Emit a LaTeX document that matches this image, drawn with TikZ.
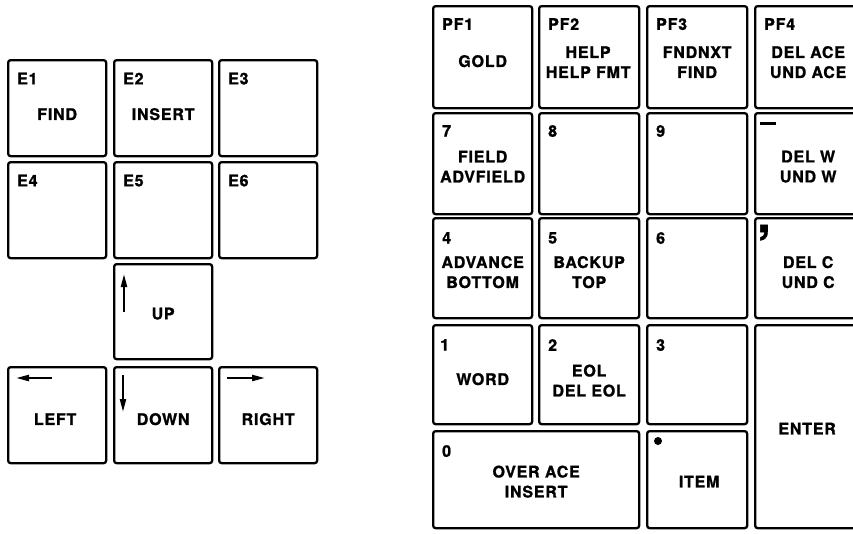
\documentclass[tikz,border=0pt]{standalone}
\usepackage{fontspec}
\setmainfont{TeX Gyre Heros}[LetterSpace=5, BoldFeatures={FakeBold=1.2}]
\usetikzlibrary{arrows.meta}
\begin{document}
\begin{tikzpicture}[x=1pt,y=-1pt,
  key/.style={draw, line width=2.3pt, rounded corners=2.5pt, anchor=north west, inner sep=0pt, minimum width=98pt, minimum height=96pt},
  lab/.style={anchor=north west, inner sep=0pt, font=\bfseries\fontsize{16}{20}\selectfont},
  txt/.style={inner sep=0pt, align=center, font=\bfseries\fontsize{16}{20}\selectfont},
  arr/.style={line width=2.2pt, -{Triangle[length=13pt,width=6pt]}},
]
\clip (0,0) rectangle (853,533);
% ---------- left group ----------
\node[key] (e1) at (7,59) {};
\node[key] (e2) at (113,59) {};
\node[key] (e3) at (218,59) {};
\node[key] (e4) at (7,161) {};
\node[key] (e5) at (113,161) {};
\node[key] (e6) at (218,161) {};
\node[key, minimum height=95pt] (up) at (113,263) {};
\node[key] (left) at (7,366) {};
\node[key] (down) at (113,366) {};
\node[key] (right) at (218,366) {};

\node[lab] (e1l) at ([shift={(10,13.5)}]e1.north west) {E1};
\node[lab] (e2l) at ([shift={(10,13.5)}]e2.north west) {E2};
\node[lab] (e3l) at ([shift={(10,13.5)}]e3.north west) {E3};
\node[lab] (e4l) at ([shift={(10,13.5)}]e4.north west) {E4};
\node[lab] (e5l) at ([shift={(10,13.5)}]e5.north west) {E5};
\node[lab] (e6l) at ([shift={(10,13.5)}]e6.north west) {E6};

\node[txt] (e1t) at ([shift={(0,6)}]e1.center) {FIND};
\node[txt] (e2t) at ([shift={(0,6)}]e2.center) {INSERT};
\node[txt] (upt) at ([shift={(0,2)}]up.center) {UP};
\node[txt] (leftt) at ([shift={(-2,4)}]left.center) {LEFT};
\node[txt] (downt) at ([shift={(0,4)}]down.center) {DOWN};
\node[txt] (rightt) at ([shift={(0,4)}]right.center) {RIGHT};

\coordinate (upa) at ([shift={(11,49)}]up.north west);
\coordinate (upb) at ([shift={(11,11)}]up.north west);
\draw[arr] (upa) -- (upb);
\coordinate (dna) at ([shift={(10,9)}]down.north west);
\coordinate (dnb) at ([shift={(10,46)}]down.north west);
\draw[arr] (dna) -- (dnb);
\coordinate (lfa) at ([shift={(45,12)}]left.north west);
\coordinate (lfb) at ([shift={(9,12)}]left.north west);
\draw[arr] (lfa) -- (lfb);
\coordinate (rta) at ([shift={(9,12)}]right.north west);
\coordinate (rtb) at ([shift={(47,12)}]right.north west);
\draw[arr] (rta) -- (rtb);

% ---------- right group ----------
\node[key, minimum width=99pt, minimum height=102pt] (pf1) at (432,5) {};
\node[key, minimum width=100pt, minimum height=102pt] (pf2) at (538,5) {};
\node[key, minimum width=100pt, minimum height=102pt] (pf3) at (646,5) {};
\node[key, minimum width=102pt, minimum height=102pt] (pf4) at (754,5) {};

\node[key, minimum width=99pt, minimum height=101pt] (k7) at (432,112) {};
\node[key, minimum width=100pt, minimum height=101pt] (k8) at (538,112) {};
\node[key, minimum width=100pt, minimum height=101pt] (k9) at (646,112) {};
\node[key, minimum width=102pt, minimum height=101pt] (kminus) at (754,112) {};

\node[key, minimum width=99pt, minimum height=100pt] (k4) at (432,217) {};
\node[key, minimum width=100pt, minimum height=100pt] (k5) at (538,217) {};
\node[key, minimum width=100pt, minimum height=100pt] (k6) at (646,217) {};
\node[key, minimum width=102pt, minimum height=100pt] (kcomma) at (754,217) {};

\node[key, minimum width=99pt, minimum height=99pt] (k1) at (432,324) {};
\node[key, minimum width=100pt, minimum height=99pt] (k2) at (538,324) {};
\node[key, minimum width=100pt, minimum height=99pt] (k3) at (646,324) {};
\node[key, minimum width=102pt, minimum height=203pt] (enter) at (754,324) {};

\node[key, minimum width=206pt, minimum height=97pt] (k0) at (432,430) {};
\node[key, minimum width=100pt, minimum height=97pt] (kdot) at (646,430) {};

\node[lab] (pf1l) at ([shift={(10,13)}]pf1.north west) {PF1};
\node[lab] (pf2l) at ([shift={(10,13)}]pf2.north west) {PF2};
\node[lab] (pf3l) at ([shift={(10,13)}]pf3.north west) {PF3};
\node[lab] (pf4l) at ([shift={(10,13)}]pf4.north west) {PF4};
\node[lab] (k7l) at ([shift={(10,13)}]k7.north west) {7};
\node[lab] (k8l) at ([shift={(10,13)}]k8.north west) {8};
\node[lab] (k9l) at ([shift={(10,13)}]k9.north west) {9};
\node[lab] (k4l) at ([shift={(10,15)}]k4.north west) {4};
\node[lab] (k5l) at ([shift={(10,15)}]k5.north west) {5};
\node[lab] (k6l) at ([shift={(10,15)}]k6.north west) {6};
\node[lab] (k1l) at ([shift={(8,15)}]k1.north west) {1};
\node[lab] (k2l) at ([shift={(10,15)}]k2.north west) {2};
\node[lab] (k3l) at ([shift={(10,15)}]k3.north west) {3};
\node[lab] (k0l) at ([shift={(10,15)}]k0.north west) {0};

\node[txt] (pf1t) at ([shift={(0,4)}]pf1.center) {GOLD};
\node[txt] (pf2t) at ([shift={(-1,5)}]pf2.center) {HELP\\HELP FMT};
\node[txt] (pf3t) at ([shift={(0,5)}]pf3.center) {FNDNXT\\FIND};
\node[txt] (pf4t) at ([shift={(2,5)}]pf4.center) {DEL ACE\\UND ACE};
\node[txt] (k7t) at ([shift={(0,3)}]k7.center) {FIELD\\ADVFIELD};
\node[txt] (kmt) at ([shift={(2,3)}]kminus.center) {DEL W\\UND W};
\node[txt] (k4t) at ([shift={(0,4)}]k4.center) {ADVANCE\\BOTTOM};
\node[txt] (k5t) at ([shift={(0,4)}]k5.center) {BACKUP\\TOP};
\node[txt] (kct) at ([shift={(2,4)}]kcomma.center) {DEL C\\UND C};
\node[txt] (k1t) at ([shift={(0,4.5)}]k1.center) {WORD};
\node[txt] (k2t) at ([shift={(0,6)}]k2.center) {EOL\\DEL EOL};
\node[txt] (entt) at ([shift={(1,2)}]enter.center) {ENTER};
\node[txt] (k0t) at ([shift={(0,2)}]k0.center) {OVER ACE\\INSERT};
\node[txt] (kdt) at ([shift={(2,2)}]kdot.center) {ITEM};

\coordinate (ma) at ([shift={(6,11.5)}]kminus.north west);
\coordinate (mb) at ([shift={(22,11.5)}]kminus.north west);
\draw[line width=3.4pt] (ma) -- (mb);
\node[anchor=base west, inner sep=0pt, font=\bfseries\fontsize{48}{48}\selectfont] (comma) at ([shift={(3,15)}]kcomma.north west) {,};
\node[circle, fill, inner sep=0pt, minimum size=8pt] (bullet) at ([shift={(12,11)}]kdot.north west) {};
\end{tikzpicture}
\end{document}
